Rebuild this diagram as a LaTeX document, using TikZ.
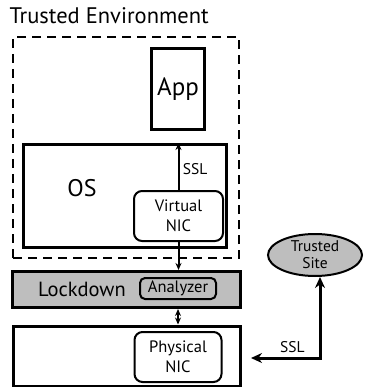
\documentclass[tikz,border=0pt]{standalone}
\usepackage{fontspec}
\setmainfont{PT Sans}
\usetikzlibrary{shapes.geometric,arrows.meta}
\definecolor{boxgray}{RGB}{190,190,190}
\tikzset{
  heavybox/.style={draw, line width=3pt, minimum width=#1},
  softbox/.style={draw, line width=2pt, rounded corners=8pt, align=center, inner sep=0pt},
  thinarrow/.style={line width=2pt, -{Stealth[length=7pt,width=6pt]}},
}
\begin{document}
\begin{tikzpicture}[x=1pt,y=-1pt]
                \useasboundingbox (0,0) rectangle (364,387);

                % Draw trusted environment
                \node[anchor=west, font=\fontsize{22.5}{24}\selectfont] (title) at (6,16) {Trusted Environment};
                \node[draw, dashed, line width=2pt, dash pattern=on 9pt off 6pt, minimum width=226pt, minimum height=221pt] (env) at (126,147.5) {};

                % Draw app and os
                \node[heavybox=53pt, minimum height=81pt, font=\fontsize{25}{27}\selectfont] (app) at (178,89) {App};
                \node[heavybox=203pt, minimum height=103pt] (os) at (125,196) {};
                \node[font=\fontsize{24}{26}\selectfont] (oslabel) at (82,188) {OS};
                \node[softbox, minimum width=89pt, minimum height=50pt, font=\fontsize{16.5}{20}\selectfont] (vnic) at (178.5,216) {Virtual\\NIC};

                % Draw lockdown layer
                \node[heavybox=228pt, minimum height=36pt, fill=boxgray] (lock) at (126.5,289.5) {};
                \node[font=\fontsize{20.5}{22}\selectfont] (locklabel) at (82,289) {Lockdown};
                \node[softbox, rounded corners=5pt, minimum width=76pt, minimum height=21pt, font=\fontsize{16.5}{18}\selectfont] (analyzer) at (178,288.5) {Analyzer};

                % Draw physical layer
                \node[heavybox=227pt, minimum height=60pt] (phys) at (127,356) {};
                \node[softbox, minimum width=87pt, minimum height=50pt, font=\fontsize{16.5}{20}\selectfont] (pnic) at (178,357) {Physical\\NIC};

                % Draw trusted site
                \node[ellipse, draw, line width=2pt, fill=boxgray, minimum width=94pt, minimum height=42pt, inner sep=0pt, align=center, font=\fontsize{15.5}{17}\selectfont] (site) at (315,255) {Trusted\\Site};

                % Draw connections
                \draw[thinarrow] (vnic.north) -- (vnic.north |- os.north) node[pos=0.45, right, font=\fontsize{15.5}{18}\selectfont] {SSL};
                \draw[thinarrow] (vnic.south) -- (vnic.south |- lock.north);
                \draw[thinarrow, {Stealth[length=7pt,width=6pt]}-{Stealth[length=7pt,width=6pt]}] (analyzer.south |- lock.south) -- (analyzer.south |- phys.north);
                \draw[line width=3pt, {Stealth[length=11pt,width=10pt]}-{Stealth[length=11pt,width=10pt]}] ([xshift=9pt,yshift=-2pt]phys.east) -| ([xshift=5pt]site.south) node[pos=0.3, above, font=\fontsize{15.5}{18}\selectfont] {SSL};
            \end{tikzpicture}
\end{document}
